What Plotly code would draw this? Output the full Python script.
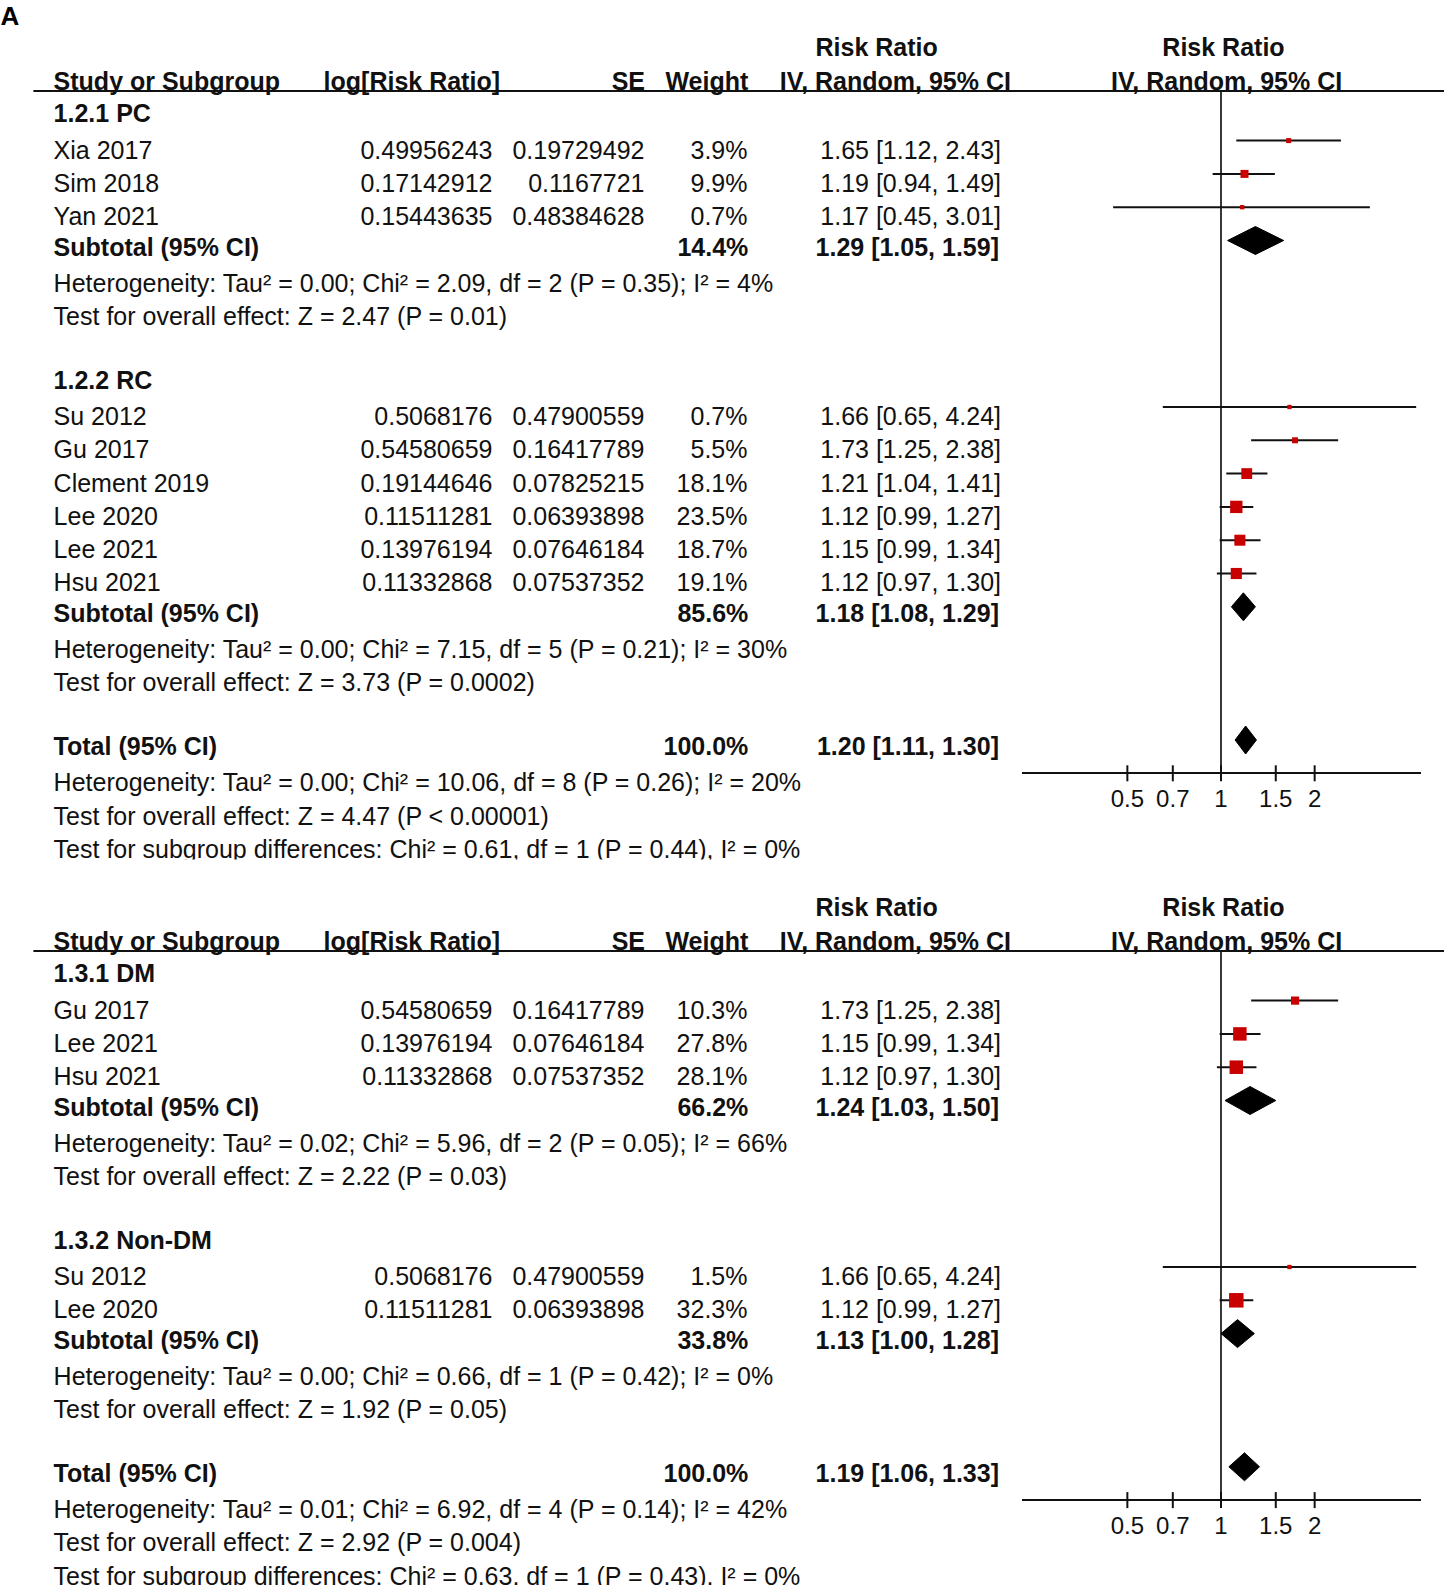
import plotly.graph_objects as go

# ------------------------------------------------------------------ data
# Panel A
A_group_titles = ["1.2.1 PC", "1.2.2 RC"]

A_g1_study = ["Xia 2017", "Sim 2018", "Yan 2021"]
A_g1_logrr = [0.49956243, 0.17142912, 0.15443635]
A_g1_se = [0.19729492, 0.1167721, 0.48384628]
A_g1_weight = [3.9, 9.9, 0.7]
A_g1_rr = [1.65, 1.19, 1.17]
A_g1_lo = [1.12, 0.94, 0.45]
A_g1_hi = [2.43, 1.49, 3.01]

A_g2_study = ["Su 2012", "Gu 2017", "Clement 2019", "Lee 2020", "Lee 2021", "Hsu 2021"]
A_g2_logrr = [0.5068176, 0.54580659, 0.19144646, 0.11511281, 0.13976194, 0.11332868]
A_g2_se = [0.47900559, 0.16417789, 0.07825215, 0.06393898, 0.07646184, 0.07537352]
A_g2_weight = [0.7, 5.5, 18.1, 23.5, 18.7, 19.1]
A_g2_rr = [1.66, 1.73, 1.21, 1.12, 1.15, 1.12]
A_g2_lo = [0.65, 1.25, 1.04, 0.99, 0.99, 0.97]
A_g2_hi = [4.24, 2.38, 1.41, 1.27, 1.34, 1.30]

A_sub_weight = [14.4, 85.6]
A_sub_rr = [1.29, 1.18]
A_sub_lo = [1.05, 1.08]
A_sub_hi = [1.59, 1.29]
A_sub_het = ["Heterogeneity: Tau² = 0.00; Chi² = 2.09, df = 2 (P = 0.35); I² = 4%",
             "Heterogeneity: Tau² = 0.00; Chi² = 7.15, df = 5 (P = 0.21); I² = 30%"]
A_sub_z = ["Test for overall effect: Z = 2.47 (P = 0.01)",
           "Test for overall effect: Z = 3.73 (P = 0.0002)"]

A_total = [100.0, 1.20, 1.11, 1.30]  # weight, rr, lo, hi
A_total_notes = ["Heterogeneity: Tau² = 0.00; Chi² = 10.06, df = 8 (P = 0.26); I² = 20%",
                 "Test for overall effect: Z = 4.47 (P < 0.00001)",
                 "Test for subgroup differences: Chi² = 0.61, df = 1 (P = 0.44), I² = 0%"]

# Panel B
B_group_titles = ["1.3.1 DM", "1.3.2 Non-DM"]

B_g1_study = ["Gu 2017", "Lee 2021", "Hsu 2021"]
B_g1_logrr = [0.54580659, 0.13976194, 0.11332868]
B_g1_se = [0.16417789, 0.07646184, 0.07537352]
B_g1_weight = [10.3, 27.8, 28.1]
B_g1_rr = [1.73, 1.15, 1.12]
B_g1_lo = [1.25, 0.99, 0.97]
B_g1_hi = [2.38, 1.34, 1.30]

B_g2_study = ["Su 2012", "Lee 2020"]
B_g2_logrr = [0.5068176, 0.11511281]
B_g2_se = [0.47900559, 0.06393898]
B_g2_weight = [1.5, 32.3]
B_g2_rr = [1.66, 1.12]
B_g2_lo = [0.65, 0.99]
B_g2_hi = [4.24, 1.27]

B_sub_weight = [66.2, 33.8]
B_sub_rr = [1.24, 1.13]
B_sub_lo = [1.03, 1.00]
B_sub_hi = [1.50, 1.28]
B_sub_het = ["Heterogeneity: Tau² = 0.02; Chi² = 5.96, df = 2 (P = 0.05); I² = 66%",
             "Heterogeneity: Tau² = 0.00; Chi² = 0.66, df = 1 (P = 0.42); I² = 0%"]
B_sub_z = ["Test for overall effect: Z = 2.22 (P = 0.03)",
           "Test for overall effect: Z = 1.92 (P = 0.05)"]

B_total = [100.0, 1.19, 1.06, 1.33]
B_total_notes = ["Heterogeneity: Tau² = 0.01; Chi² = 6.92, df = 4 (P = 0.14); I² = 42%",
                 "Test for overall effect: Z = 2.92 (P = 0.004)",
                 "Test for subgroup differences: Chi² = 0.63, df = 1 (P = 0.43), I² = 0%"]

tick_vals = [0.5, 0.7, 1, 1.5, 2]
tick_text = ["0.5", "0.7", "1", "1.5", "2"]

# ------------------------------------------------------------------ layout constants
W, H = 1446, 1585
FONT = "Liberation Sans, Arial, Helvetica, sans-serif"
TXT = "#111111"
FS = 25
MARK0 = 107.3      # pixel row of the first (group-title) line of panel A
PITCH = 33.3
SHIFT_B = 860
OFF_REG = 11.7     # regular text sits a little below the marks of its row
OFF_BOLD = 8.8
X_NAME, X_LOG_R, X_SE_R, X_WT_R, X_CI_R = 53.6, 492.5, 644.5, 747.5, 1001.0
X_WT_BOLD_R, X_CI_BOLD_R = 748.3, 999.0
PLOT_L, PLOT_R = 1022, 1421
LOG_RANGE = [-0.6397, 0.6429]
RED = "#C80000"


def groups_of(titles, studies, logrr, se, wt, rr, lo, hi, sw, srr, slo, shi, shet, sz):
    out = []
    for k in range(len(titles)):
        out.append(dict(title=titles[k],
                        rows=list(zip(studies[k], logrr[k], se[k], wt[k], rr[k], lo[k], hi[k])),
                        sub=(sw[k], srr[k], slo[k], shi[k]), het=shet[k], z=sz[k]))
    return out


A_groups = groups_of(A_group_titles,
                     [A_g1_study, A_g2_study], [A_g1_logrr, A_g2_logrr], [A_g1_se, A_g2_se],
                     [A_g1_weight, A_g2_weight], [A_g1_rr, A_g2_rr], [A_g1_lo, A_g2_lo],
                     [A_g1_hi, A_g2_hi], A_sub_weight, A_sub_rr, A_sub_lo, A_sub_hi,
                     A_sub_het, A_sub_z)
B_groups = groups_of(B_group_titles,
                     [B_g1_study, B_g2_study], [B_g1_logrr, B_g2_logrr], [B_g1_se, B_g2_se],
                     [B_g1_weight, B_g2_weight], [B_g1_rr, B_g2_rr], [B_g1_lo, B_g2_lo],
                     [B_g1_hi, B_g2_hi], B_sub_weight, B_sub_rr, B_sub_lo, B_sub_hi,
                     B_sub_het, B_sub_z)

texts = {"middle right": ([], [], []), "middle left": ([], [], []), "middle center": ([], [], [])}
letters = ([], [], [])


def put(x, y, s, pos):
    texts[pos][0].append(x)
    texts[pos][1].append(y)
    texts[pos][2].append(s)


fig = go.Figure()
shapes = []
axis_positions = []


def ci_str(rr, lo, hi):
    return f"{rr:.2f} [{lo:.2f}, {hi:.2f}]"


def panel(letter, groups, total, notes, off, xa):
    M = lambda i: MARK0 + off + i * PITCH
    top_line = M(0) - 16.3
    letters[0].append(0.5)
    letters[1].append(M(0) - 88.5)
    letters[2].append(f"<b>{letter}</b>")
    put(876.7, M(0) - 57.3, "<b>Risk Ratio</b>", "middle center")
    put(1223.5, M(0) - 57.3, "<b>Risk Ratio</b>", "middle center")
    hy = M(0) - 23.5
    put(X_NAME, hy, "<b>Study or Subgroup</b>", "middle right")
    put(323.6, hy, "<b>log[Risk Ratio]</b>", "middle right")
    put(645.0, hy, "<b>SE</b>", "middle left")
    put(748.3, hy, "<b>Weight</b>", "middle left")
    put(895.4, hy, "<b>IV, Random, 95% CI</b>", "middle center")
    put(1226.6, hy, "<b>IV, Random, 95% CI</b>", "middle center")
    shapes.append(dict(type="line", xref="x", yref="y", x0=33.4, x1=1444, y0=top_line, y1=top_line,
                       line=dict(color="#111", width=2)))

    ci_x, ci_y, sq_x, sq_y, sq_s = [], [], [], [], []
    diamonds = []
    i = 0
    for g in groups:
        put(X_NAME, M(i) + OFF_BOLD, f"<b>{g['title']}</b>", "middle right")
        i += 1
        for (name, lr, se, w, rr, lo, hi) in g["rows"]:
            y = M(i) + OFF_REG
            put(X_NAME, y, name, "middle right")
            put(X_LOG_R, y, f"{lr}", "middle left")
            put(X_SE_R, y, f"{se}", "middle left")
            put(X_WT_R, y, f"{w:.1f}%", "middle left")
            put(X_CI_R, y, ci_str(rr, lo, hi), "middle left")
            ci_x += [lo, hi, None]
            ci_y += [M(i), M(i), None]
            sq_x.append(rr)
            sq_y.append(M(i))
            sq_s.append(max(4.3, 2.55 * w ** 0.5))
            i += 1
        sw, srr, slo, shi = g["sub"]
        y = M(i) + OFF_BOLD
        put(X_NAME, y, "<b>Subtotal (95% CI)</b>", "middle right")
        put(X_WT_BOLD_R, y, f"<b>{sw:.1f}%</b>", "middle left")
        put(X_CI_BOLD_R, y, f"<b>{ci_str(srr, slo, shi)}</b>", "middle left")
        diamonds.append((srr, slo, shi, M(i)))
        i += 1
        put(X_NAME, M(i) + OFF_REG, g["het"], "middle right")
        i += 1
        put(X_NAME, M(i) + OFF_REG, g["z"], "middle right")
        i += 2
    tw, trr, tlo, thi = total
    y = M(i) + OFF_BOLD
    put(X_NAME, y, "<b>Total (95% CI)</b>", "middle right")
    put(X_WT_BOLD_R, y, f"<b>{tw:.1f}%</b>", "middle left")
    put(X_CI_BOLD_R, y, f"<b>{ci_str(trr, tlo, thi)}</b>", "middle left")
    diamonds.append((trr, tlo, thi, M(i)))
    axis_y = M(i + 1)
    for n in notes:
        i += 1
        put(X_NAME, M(i) + OFF_REG, n, "middle right")
    # the panel is cropped just under the last text line
    last = M(i) + OFF_REG
    shapes.append(dict(type="rect", xref="x", yref="y", x0=0, x1=W, y0=last + 8, y1=last + 40,
                       fillcolor="white", line=dict(width=0), layer="above"))

    # reference line at RR = 1
    fig.add_trace(go.Scatter(x=[1, 1], y=[top_line, axis_y], xaxis=xa, yaxis="y", mode="lines",
                             line=dict(color="#222", width=1.8), hoverinfo="skip"))
    # confidence intervals
    fig.add_trace(go.Scatter(x=ci_x, y=ci_y, xaxis=xa, yaxis="y", mode="lines",
                             line=dict(color="#111", width=2), hoverinfo="skip"))
    # study squares
    fig.add_trace(go.Scatter(x=sq_x, y=sq_y, xaxis=xa, yaxis="y", mode="markers",
                             marker=dict(symbol="square", color=RED, size=sq_s, opacity=1,
                                         line=dict(width=0)),
                             hoverinfo="skip"))
    # pooled diamonds
    for (rr, lo, hi, yc) in diamonds:
        h = 14
        fig.add_trace(go.Scatter(x=[lo, rr, hi, rr, lo], y=[yc, yc - h, yc, yc + h, yc],
                                 xaxis=xa, yaxis="y", mode="lines", fill="toself",
                                 fillcolor="black", line=dict(color="black", width=1),
                                 hoverinfo="skip"))
    # tick marks crossing the axis line
    tx, tyy = [], []
    for v in tick_vals:
        tx += [v, v, None]
        tyy += [axis_y - 8, axis_y + 8, None]
    fig.add_trace(go.Scatter(x=tx, y=tyy, xaxis=xa, yaxis="y", mode="lines",
                             line=dict(color="#111", width=2), hoverinfo="skip"))
    fig.add_trace(go.Scatter(x=tick_vals, y=[axis_y + 27.5] * len(tick_vals), text=tick_text,
                             xaxis=xa, yaxis="y", mode="text", textposition="middle center",
                             cliponaxis=False,
                             textfont=dict(family=FONT, size=24, color=TXT), hoverinfo="skip"))
    axis_positions.append(axis_y)


panel("A", A_groups, A_total, A_total_notes, 0, "x2")
panel("B", B_groups, B_total, B_total_notes, SHIFT_B, "x3")

for pos, (xs, ys, ts) in texts.items():
    fig.add_trace(go.Scatter(x=xs, y=ys, text=ts, mode="text", textposition=pos,
                             xaxis="x", yaxis="y", cliponaxis=False,
                             textfont=dict(family=FONT, size=FS, color=TXT), hoverinfo="skip"))
fig.add_trace(go.Scatter(x=letters[0], y=letters[1], text=letters[2], mode="text",
                         textposition="middle right", xaxis="x", yaxis="y", cliponaxis=False,
                         textfont=dict(family=FONT, size=26, color="#000"), hoverinfo="skip"))

log_axis = dict(type="log", range=LOG_RANGE, domain=[PLOT_L / W, PLOT_R / W], anchor="free",
                showline=True, linecolor="#111", linewidth=2, ticks="", showticklabels=False,
                showgrid=False, zeroline=False, fixedrange=True)

fig.update_layout(
    width=W, height=H, margin=dict(l=0, r=0, t=0, b=0),
    paper_bgcolor="white", plot_bgcolor="rgba(0,0,0,0)", showlegend=False,
    xaxis=dict(range=[0, W], domain=[0, 1], visible=False, fixedrange=True),
    yaxis=dict(range=[H, 0], domain=[0, 1], visible=False, fixedrange=True),
    xaxis2=dict(log_axis, position=1 - axis_positions[0] / H),
    xaxis3=dict(log_axis, position=1 - axis_positions[1] / H),
    shapes=shapes,
)

fig.write_html("out.html", config={"displayModeBar": False},
               post_script="document.body.style.margin='0px';")
